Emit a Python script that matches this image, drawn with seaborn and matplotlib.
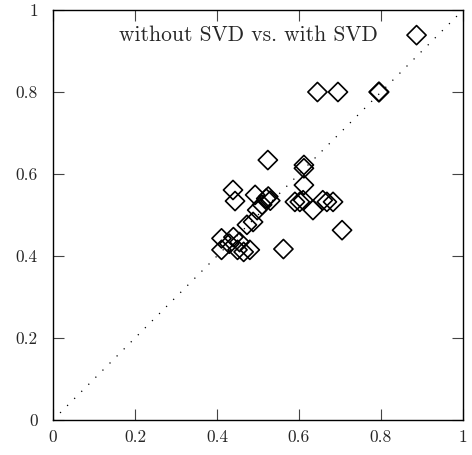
import matplotlib
matplotlib.use("Agg")
import matplotlib.pyplot as plt
import seaborn as sns
import pandas as pd
import numpy as np

without_svd = [0.795, 0.795, 0.795, 0.645, 0.695, 0.524, 0.612, 0.612, 0.612,
               0.590, 0.602, 0.610, 0.634, 0.658, 0.668, 0.683, 0.705, 0.562,
               0.520, 0.530, 0.510, 0.525, 0.493, 0.439, 0.444, 0.498, 0.473,
               0.488, 0.411, 0.411, 0.440, 0.430, 0.450, 0.465, 0.480, 0.455]
with_svd = [0.800, 0.800, 0.800, 0.800, 0.800, 0.634, 0.622, 0.614, 0.573,
            0.532, 0.532, 0.536, 0.512, 0.536, 0.532, 0.532, 0.463, 0.417,
            0.540, 0.535, 0.525, 0.545, 0.549, 0.561, 0.534, 0.512, 0.476,
            0.483, 0.443, 0.415, 0.446, 0.430, 0.415, 0.410, 0.415, 0.434]
tick_vals = [0, 0.2, 0.4, 0.6, 0.8, 1]
tick_labels = ["0", "0.2", "0.4", "0.6", "0.8", "1"]
legend_label = "without SVD vs. with SVD"

sns.set_style("ticks")
plt.rcParams['font.family'] = ['cmr10', 'DejaVu Serif']
plt.rcParams['axes.formatter.use_mathtext'] = True

df = pd.DataFrame({"x": without_svd, "y": with_svd})

fig = plt.figure(figsize=(4.72, 4.55), dpi=100)
ax = fig.add_axes([53/472, 35/455, 410/472, 410/455])

ax.plot([0, 1], [0, 1], color="black", linestyle=(0, (1, 7)), lw=0.9)
sns.scatterplot(data=df, x="x", y="y", ax=ax, marker="D", s=95,
                facecolor="none", edgecolor="black", linewidth=1.2,
                label=legend_label)

ax.set_xlim(0, 1)
ax.set_ylim(0, 1)
ax.set_xticks(tick_vals)
ax.set_xticklabels(tick_labels)
ax.set_yticks(tick_vals)
ax.set_yticklabels(tick_labels)
ax.set_xlabel("")
ax.set_ylabel("")
ax.tick_params(direction="in", length=8, width=0.8, top=True, right=True,
               labelsize=12.5, color="#444444")
ax.tick_params(axis="y", pad=11)
ax.tick_params(axis="x", pad=7)
for sp in ax.spines.values():
    sp.set_linewidth(1.0)
    sp.set_color("black")

leg = ax.legend(loc="upper center", bbox_to_anchor=(0.55, 1.01), frameon=False,
                markerfirst=False, fontsize=15.5, handletextpad=0.8,
                borderaxespad=0.5)

fig.savefig("out.png", dpi=100)
